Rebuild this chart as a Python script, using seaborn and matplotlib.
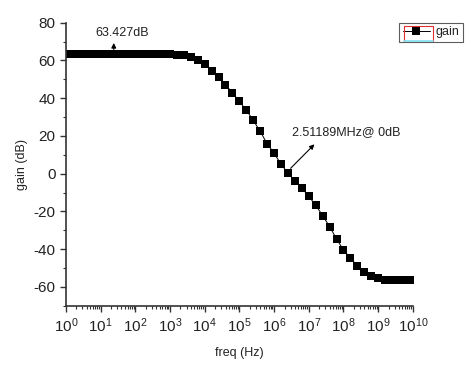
import numpy as np
import pandas as pd
import matplotlib
matplotlib.use("Agg")
import matplotlib.pyplot as plt
import matplotlib.ticker as mticker
from matplotlib.lines import Line2D
import seaborn as sns

# log10 of frequency, 5 points per decade
log_freq = [0.0, 0.2, 0.4, 0.6, 0.8, 1.0, 1.2, 1.4, 1.6, 1.8, 2.0, 2.2, 2.4, 2.6, 2.8, 3.0,
            3.2, 3.4, 3.6, 3.8, 4.0, 4.2, 4.4, 4.6, 4.8, 5.0, 5.2, 5.4, 5.6, 5.8, 6.0,
            6.2, 6.4, 6.6, 6.8, 7.0, 7.2, 7.4, 7.6, 7.8, 8.0, 8.2, 8.4, 8.6, 8.8, 9.0,
            9.2, 9.4, 9.6, 9.8, 10.0]
gain_db = [63.43] * 16 + [63.1, 62.7, 61.7, 60.1, 58.0, 54.6, 51.1, 47.2, 42.8, 38.3,
                          33.6, 28.3, 22.4, 15.9, 10.8, 5.1, 0.3, -3.7, -7.6, -12.0,
                          -16.7, -22.2, -28.0, -34.5, -40.4, -44.7, -48.7, -52.1, -54.0,
                          -55.5, -56.1, -56.4, -56.4, -56.4, -56.4]

df = pd.DataFrame({"freq": 10.0 ** np.array(log_freq), "gain": gain_db})

sns.set_style("white")
plt.rcParams["font.family"] = ["Liberation Sans", "DejaVu Sans"]
plt.rcParams["axes.unicode_minus"] = False

fig = plt.figure(figsize=(4.74, 3.65), dpi=100)
ax = fig.add_axes([0.139, 0.162, 0.732, 0.776])

sns.lineplot(data=df, x="freq", y="gain", ax=ax, color="black", linewidth=0.7,
             marker="s", markersize=5.2, markeredgewidth=0, label="gain")

ax.set_xscale("log")
ax.set_xlim(1, 1e10)
ax.set_ylim(-70, 80)
ax.xaxis.set_major_locator(mticker.LogLocator(base=10, numticks=12))
ax.xaxis.set_minor_locator(mticker.LogLocator(base=10, subs=np.arange(2, 10), numticks=12))
ax.xaxis.set_minor_formatter(mticker.NullFormatter())
ax.yaxis.set_major_locator(mticker.MultipleLocator(20))
ax.yaxis.set_minor_locator(mticker.MultipleLocator(10))

for s in ["top", "right"]:
    ax.spines[s].set_visible(False)
for s in ["left", "bottom"]:
    ax.spines[s].set_color("#333333")
    ax.spines[s].set_linewidth(1.2)

ax.tick_params(which="major", direction="out", length=4, width=1, color="#333333",
               labelsize=11, labelcolor="#222222", left=True, bottom=True)
ax.tick_params(which="minor", direction="out", length=2, width=0.8, color="#333333",
               left=True, bottom=True)

ax.set_xlabel("freq (Hz)", fontsize=9, color="#222222", labelpad=9)
ax.set_ylabel("gain (dB)", fontsize=9, color="#222222", labelpad=4)

# annotations
ax.annotate("", xy=(10 ** 1.38, 70.7), xytext=(10 ** 1.38, 64.3),
            arrowprops=dict(arrowstyle="-|>", color="black", lw=0.8, mutation_scale=7))
ax.text(10 ** 1.61, 71.2, "63.427dB", fontsize=9, color="#222222", ha="center", va="bottom")

ax.annotate("", xy=(10 ** 7.22, 16.6), xytext=(10 ** 6.42, 1.8),
            arrowprops=dict(arrowstyle="-|>", color="black", lw=0.8, mutation_scale=7))
ax.text(10 ** 6.53, 22.3, "2.51189MHz@ 0dB", fontsize=9, color="#222222", ha="left", va="center")

leg = ax.legend(loc="upper right", bbox_to_anchor=(1.144, 1.0), frameon=True, fancybox=False,
                fontsize=9, handlelength=2.2, handletextpad=0.4, borderpad=0.3,
                borderaxespad=0)
leg.get_frame().set_edgecolor("#333333")
leg.get_frame().set_linewidth(0.8)

# red / cyan outline around the legend sample, as in the original export
fig.canvas.draw()
rend = fig.canvas.get_renderer()
tb = leg.get_texts()[0].get_window_extent(rend)
fb = leg.get_frame().get_window_extent(rend)
inv = fig.transFigure.inverted()
x0, x1 = fb.x0 + 5, tb.x0 - 2
y0, y1 = fb.y0 + 1.5, fb.y1 - 3
(fx0, fy0), (fx1, fy1) = inv.transform([(x0, y0), (x1, y1)])
fig.add_artist(Line2D([fx0, fx0, fx1, fx1], [fy0, fy1, fy1, fy0], color="#e03030", lw=0.8,
                      transform=fig.transFigure))
fig.add_artist(Line2D([fx0, fx1], [fy0, fy0], color="#7fe0f0", lw=1.2,
                      transform=fig.transFigure))

fig.savefig("out.png", dpi=100)
